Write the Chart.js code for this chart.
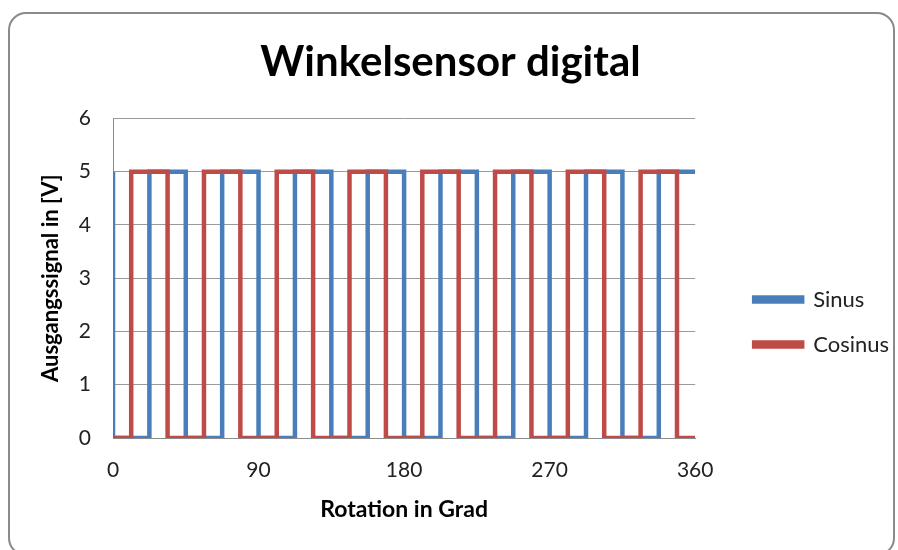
<!DOCTYPE html>
<html>
<head>
<meta charset="utf-8">
<script src="https://cdn.jsdelivr.net/npm/chart.js@4"></script>
<style>
  html, body { margin: 0; padding: 0; background: #ffffff; }
  #rahmen {
    position: absolute; left: 8px; top: 12px; width: 883px; height: 540px;
    border: 2px solid #8a8a8a; border-radius: 18px; background: #ffffff;
  }
  #diagramm { position: absolute; left: 0; top: 0; }
</style>
</head>
<body>
<div id="rahmen"></div>
<canvas id="diagramm" width="898" height="550"></canvas>
<script>
// Winkelsensor digital - Sinus/Cosinus Rechtecksignale

// Drehwinkel (Grad) und Pegel (V) an den Flanken
const winkelSinus = [0, 0, 22.5, 22.5, 45, 45, 67.5, 67.5, 90, 90, 112.5, 112.5, 135, 135, 157.5, 157.5,
  180, 180, 202.5, 202.5, 225, 225, 247.5, 247.5, 270, 270, 292.5, 292.5, 315, 315, 337.5, 337.5, 360];
const pegelSinus = [5, 0, 0, 5, 5, 0, 0, 5, 5, 0, 0, 5, 5, 0, 0, 5,
  5, 0, 0, 5, 5, 0, 0, 5, 5, 0, 0, 5, 5, 0, 0, 5, 5];

const winkelCosinus = [0, 11.25, 11.25, 33.75, 33.75, 56.25, 56.25, 78.75, 78.75, 101.25, 101.25, 123.75, 123.75,
  146.25, 146.25, 168.75, 168.75, 191.25, 191.25, 213.75, 213.75, 236.25, 236.25, 258.75, 258.75,
  281.25, 281.25, 303.75, 303.75, 326.25, 326.25, 348.75, 348.75, 360];
const pegelCosinus = [0, 0, 5, 5, 0, 0, 5, 5, 0, 0, 5, 5, 0, 0, 5, 5, 0,
  0, 5, 5, 0, 0, 5, 5, 0, 0, 5, 5, 0, 0, 5, 5, 0, 0];

const xTicks = [0, 90, 180, 270, 360];
const yTicks = [0, 1, 2, 3, 4, 5, 6];

const schrift = 'Lato, "Open Sans", Arial, sans-serif';

function punkte(xs, ys) {
  return xs.map((x, i) => ({ x: x, y: ys[i] }));
}

const linie = {
  showLine: true,
  pointRadius: 0,
  borderWidth: 4.5,
  borderJoinStyle: 'miter',
  borderCapStyle: 'butt',
  tension: 0,
  fill: false
};

// Legende etwas vom Diagramm abruecken (wie im Excel-Original)
const legendeVersatz = {
  id: 'legendeVersatz',
  afterLayout(chart) {
    chart.legend.left += 36;
    chart.legend.right += 36;
  }
};

new Chart(document.getElementById('diagramm'), {
  type: 'scatter',
  data: {
    datasets: [
      Object.assign({
        label: 'Sinus',
        data: punkte(winkelSinus, pegelSinus),
        borderColor: '#4a7ebb',
        backgroundColor: '#4a7ebb',
        order: 1
      }, linie),
      Object.assign({
        label: 'Cosinus',
        data: punkte(winkelCosinus, pegelCosinus),
        borderColor: '#be4b48',
        backgroundColor: '#be4b48',
        order: 0
      }, linie)
    ]
  },
  plugins: [legendeVersatz],
  options: {
    responsive: false,
    devicePixelRatio: 1,
    animation: false,
    layout: { padding: { left: 38, right: 35, top: 0, bottom: 27 } },
    plugins: {
      tooltip: { enabled: false },
      title: {
        display: true,
        text: 'Winkelsensor digital',
        color: '#000000',
        font: { family: schrift, size: 42, weight: 'bold' },
        padding: { top: 37, bottom: 31 }
      },
      legend: {
        display: true,
        position: 'right',
        title: { display: true, text: '', font: { size: 10 }, padding: { top: 0, bottom: 109 } },
        labels: {
          boxWidth: 48,
          boxHeight: 4,
          padding: 23,
          color: '#222222',
          font: { family: schrift, size: 22 },
          sort: (a, b) => a.datasetIndex - b.datasetIndex
        }
      }
    },
    scales: {
      x: {
        type: 'linear',
        min: 0,
        max: 360,
        afterBuildTicks: s => { s.ticks = xTicks.map(v => ({ value: v })); },
        afterFit: s => { s.height = 85; },
        grid: { display: false, drawTicks: false },
        border: { display: true, color: '#8c8c8c', width: 1 },
        ticks: { color: '#222222', padding: 20, font: { family: schrift, size: 21 } },
        title: {
          display: true,
          text: 'Rotation in Grad',
          color: '#000000',
          font: { family: schrift, size: 23, weight: 'bold' },
          padding: { top: 0, bottom: 0 }
        }
      },
      y: {
        min: 0,
        max: 6,
        afterBuildTicks: s => { s.ticks = yTicks.map(v => ({ value: v })); },
        afterFit: s => { s.width = 75; },
        grid: { color: '#9a9a9a', lineWidth: 1, drawTicks: false },
        border: { display: true, color: '#8c8c8c', width: 1 },
        ticks: { color: '#222222', padding: 22, font: { family: schrift, size: 21 } },
        title: {
          display: true,
          text: 'Ausgangssignal in [V]',
          color: '#000000',
          font: { family: schrift, size: 22, weight: 'bold' },
          padding: { top: 0, bottom: 0 }
        }
      }
    }
  }
});
</script>
</body>
</html>
